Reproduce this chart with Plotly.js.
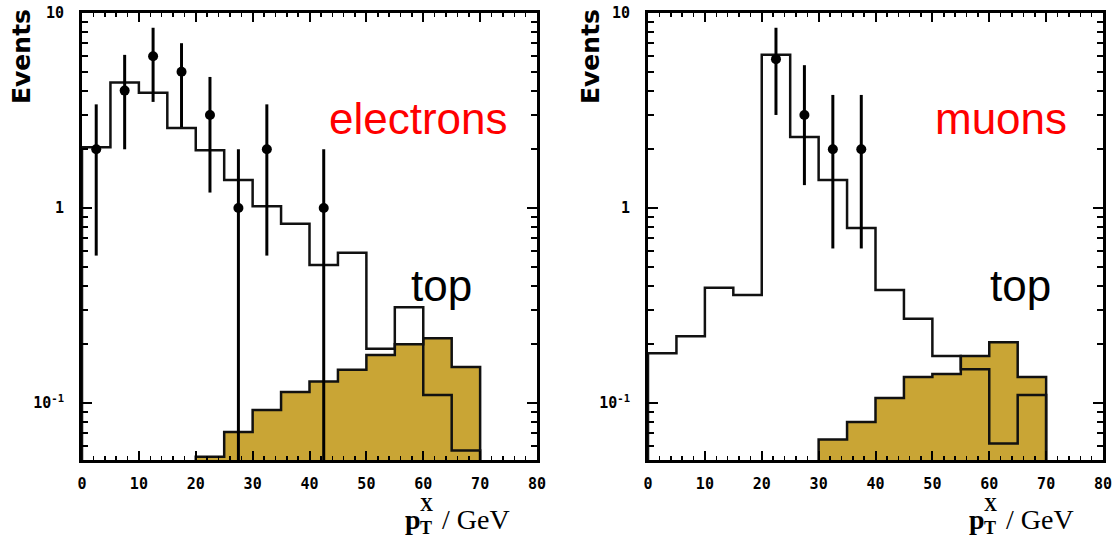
<!DOCTYPE html>
<html>
<head>
<meta charset="utf-8">
<script src="https://cdn.plot.ly/plotly-3.0.1.min.js"></script>
<style>html,body{margin:0;padding:0;background:#fff;}#chart{width:1115px;height:543px;}</style>
</head>
<body>
<div id="chart"></div>
<script>
// ---- data ----
const binEdges = [0,5,10,15,20,25,30,35,40,45,50,55,60,65,70];
// electrons: simulated background histogram (per 5 GeV bin, starting at 0)
const elecMC = [2.05,4.4,3.9,2.57,1.98,1.39,1.02,0.83,0.51,0.59,0.19,0.31,0.11,0.057];
// electrons: top contribution (bins from 20 GeV)
const elecTopStart = 20;
const elecTop = [0.053,0.071,0.092,0.114,0.129,0.148,0.176,0.20,0.215,0.153];
// electrons: data points
const elecX  = [2.5,7.5,12.5,17.5,22.5,27.5,32.5,42.5];
const elecN  = [2,4,6,5,3,1,2,1];
const elecHi = [3.4,6.1,8.4,7.0,4.7,2.0,3.4,2.0];
const elecLo = [0.57,2.0,3.5,2.6,1.2,0.01,0.57,0.01];

// muons
const muonMC = [0.18,0.22,0.39,0.358,6.1,2.31,1.39,0.79,0.38,0.27,0.174,0.149,0.062,0.11];
const muonTopStart = 30;
const muonTop = [0.065,0.08,0.106,0.136,0.141,0.174,0.205,0.136];
const muonX  = [22.5,27.5,32.5,37.5];
const muonN  = [5.8,3,2,2];
const muonHi = [8.4,5.4,3.8,3.8];
const muonLo = [3.0,1.31,0.62,0.62];

const yTickVals = [0.1,1,10];
const yTickText = ['10<sup>-1</sup>','1','10'];
const xTickVals = [0,10,20,30,40,50,60,70,80];

// ---- helpers ----
const FLOOR = 0.01;
function stepXY(startEdge, vals){
  const i0 = binEdges.indexOf(startEdge);
  const xs=[binEdges[i0]], ys=[FLOOR];
  for(let i=0;i<vals.length;i++){ xs.push(binEdges[i0+i]); ys.push(vals[i]); }
  xs.push(binEdges[i0+vals.length]); ys.push(FLOOR);
  return {x:xs,y:ys};
}
const GOLD = '#c9a535';
function panelTraces(mc, topStart, top, dx, dn, dhi, dlo, xa, ya){
  const t = stepXY(topStart, top);
  const m = stepXY(0, mc);
  return [
    {type:'scatter', mode:'lines', x:t.x, y:t.y, xaxis:xa, yaxis:ya, line:{shape:'hv', color:'#111', width:2.5},
     fill:'toself', fillcolor:GOLD, hoverinfo:'skip'},
    {type:'scatter', mode:'lines', x:m.x, y:m.y, xaxis:xa, yaxis:ya, line:{shape:'hv', color:'#111', width:2.5}, hoverinfo:'skip'},
    {type:'scatter', mode:'markers', x:dx, y:dn, xaxis:xa, yaxis:ya,
     marker:{color:'#000', size:10, symbol:'circle'},
     error_y:{type:'data', symmetric:false,
       array: dhi.map((h,i)=>h-dn[i]), arrayminus: dlo.map((l,i)=>dn[i]-l),
       color:'#000', thickness:3, width:0}}
  ];
}
const data = [].concat(
  panelTraces(elecMC, elecTopStart, elecTop, elecX, elecN, elecHi, elecLo, 'x', 'y'),
  panelTraces(muonMC, muonTopStart, muonTop, muonX, muonN, muonHi, muonLo, 'x2', 'y2')
);

const W=1115, H=543;
const px = v => v/W, py = v => (H-v)/H;
const tickFont = {family:'DejaVu Sans Mono', size:15, color:'#000', weight:'bold'};
function xAxis(d0,d1,anchor){
  return {domain:[px(d0),px(d1)], range:[0,80], anchor:anchor, showgrid:false, zeroline:false,
    showline:true, linecolor:'#000', linewidth:3, mirror:'ticks',
    ticks:'inside', ticklen:9, tickwidth:2, tickcolor:'#000',
    tickvals:xTickVals, tickfont:tickFont, ticklabelstandoff:8, automargin:false,
    minor:{ticks:'inside', ticklen:4, tickwidth:1.5, dtick:2, tickcolor:'#000', showgrid:false}};
}
function yAxis(anchor){
  return {domain:[py(460),py(13)], type:'log', range:[Math.log10(0.051),1.0], anchor:anchor,
    showgrid:false, zeroline:false, showline:true, linecolor:'#000', linewidth:3, mirror:'ticks',
    ticks:'inside', ticklen:10, tickwidth:2, tickcolor:'#000',
    tickvals:yTickVals, ticktext:yTickText, tickfont:tickFont, ticklabelstandoff:12, automargin:false,
    minor:{ticks:'inside', ticklen:6, tickwidth:2, dtick:'D1', tickcolor:'#000', showgrid:false}};
}
const bigFont = {family:'Liberation Sans, Arial, sans-serif', size:44};
const serif = {family:'Liberation Serif, Times New Roman, serif', size:28, color:'#000'};
const serifSmall = {family:'Liberation Serif, Times New Roman, serif', size:18, color:'#000'};
const evFont = {family:'DejaVu Sans', size:25, color:'#000', weight:'bold'};
function ann(text,x,y,font,extra){ return Object.assign({text:text, x:px(x), y:py(y), xref:'paper', yref:'paper', showarrow:false, font:font, xanchor:'center', yanchor:'middle'}, extra||{}); }
function xTitle(x0){
  return [
    ann('<b>p</b>', x0, 519, serif, {xanchor:'left'}),
    ann('<b>T</b>', x0+15, 528, serifSmall, {xanchor:'left'}),
    ann('<b>X</b>', x0+15, 505, serifSmall, {xanchor:'left'}),
    ann('/ GeV', x0+37, 519, serif, {xanchor:'left'})
  ];
}

const layout = {
  width:W, height:H, margin:{l:0,r:0,t:0,b:0}, paper_bgcolor:'#fff', plot_bgcolor:'#fff', showlegend:false,
  xaxis: xAxis(82,537,'y'), yaxis: yAxis('x'),
  xaxis2: xAxis(648,1103,'y2'), yaxis2: yAxis('x2'),
  annotations:[
    ann('electrons',418,118,Object.assign({},bigFont,{color:'#ff0000'})),
    ann('muons',1001,118,Object.assign({},bigFont,{color:'#ff0000'})),
    ann('top',441,285,Object.assign({},bigFont,{color:'#000'})),
    ann('top',1020,285,Object.assign({},bigFont,{color:'#000'})),
    ann('Events',22,57,evFont,{textangle:-90}),
    ann('Events',591,57,evFont,{textangle:-90})
  ].concat(xTitle(403), xTitle(967))
};
Plotly.newPlot('chart', data, layout, {staticPlot:true, displayModeBar:false});
</script>
</body>
</html>
